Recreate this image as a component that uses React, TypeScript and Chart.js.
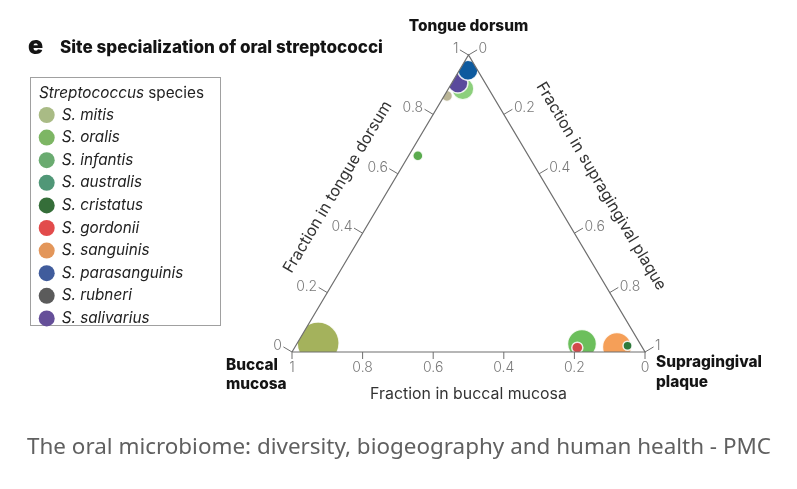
import React, { useEffect, useRef } from "react";
import { Chart, registerables } from "chart.js";

Chart.register(...registerables);

// ---------- data ----------
const species = [
  "S. mitis",
  "S. oralis",
  "S. infantis",
  "S. australis",
  "S. cristatus",
  "S. gordonii",
  "S. sanguinis",
  "S. parasanguinis",
  "S. rubneri",
  "S. salivarius",
];
const buccalFraction = [0.911, 0.165, 0.313, 0.073, 0.039, 0.185, 0.071, 0.027, 0.13, 0.077];
const tongueFraction = [0.03, 0.027, 0.661, 0.886, 0.021, 0.0145, 0.017, 0.949, 0.862, 0.906];
const plaqueFraction = [0.059, 0.808, 0.026, 0.041, 0.94, 0.801, 0.912, 0.024, 0.008, 0.017];
const relativeAbundance = [100, 47.7, 5.7, 27.4, 4.6, 6.9, 47.7, 22.7, 6.9, 22.7];
const tickValues = [0, 0.2, 0.4, 0.6, 0.8, 1];
const tickLabels = ["0", "0.2", "0.4", "0.6", "0.8", "1"];

// ---------- styles ----------
const markColors = [
  "#a4b25c",
  "#6cbf5c",
  "#5aab4e",
  "#8ccf7c",
  "#2e7a3b",
  "#d24a4a",
  "#f59f58",
  "#0e5a9e",
  "#bab596",
  "#5a4a9c",
];
const legendColors = [
  "#a9bb85",
  "#7db664",
  "#6aab70",
  "#509777",
  "#356e39",
  "#e24b4b",
  "#e3965a",
  "#405c9c",
  "#5b5b5b",
  "#654f99",
];
// higher = drawn earlier (underneath)
const drawRank = [2, 6, 1, 10, 3, 5, 4, 7, 9, 8];

const FIG = "Inter, 'Liberation Sans', sans-serif";
const CAP = "'Noto Sans', 'Open Sans', sans-serif";

function fit(ctx: CanvasRenderingContext2D, text: string, style: string, weight: number, family: string, target: number) {
  ctx.font = `${style} ${weight} 100px ${family}`;
  const w = ctx.measureText(text).width;
  return (100 * target) / w;
}

function pt(chart: any, b: number, t: number, s: number) {
  const xs = chart.scales.x;
  const ys = chart.scales.y;
  return { x: xs.getPixelForValue(s + t / 2), y: ys.getPixelForValue(t) };
}

function normal(p: any, q: any) {
  const dx = q.x - p.x;
  const dy = q.y - p.y;
  const L = Math.hypot(dx, dy);
  return { x: dy / L, y: -dx / L };
}

const decorPlugin = {
  id: "ternaryDecor",
  beforeDraw(chart: any) {
    const { ctx, width, height } = chart;
    ctx.save();
    ctx.fillStyle = "#ffffff";
    ctx.fillRect(0, 0, width, height);
    ctx.restore();
  },
  beforeDatasetDraw(chart: any, args: any) {
    const ds = chart.data.datasets[args.index];
    if (ds.type !== "bubble") return;
    const { ctx } = chart;
    const a = pt(chart, 1, 0, 0);
    const b = pt(chart, 0, 1, 0);
    const c = pt(chart, 0, 0, 1);
    ctx.save();
    ctx.beginPath();
    ctx.moveTo(a.x, a.y);
    ctx.lineTo(b.x, b.y);
    ctx.lineTo(c.x, c.y);
    ctx.closePath();
    ctx.clip();
  },
  afterDatasetDraw(chart: any, args: any) {
    const ds = chart.data.datasets[args.index];
    if (ds.type !== "bubble") return;
    chart.ctx.restore();
  },
  afterDraw(chart: any) {
    const ctx: CanvasRenderingContext2D = chart.ctx;
    const BL = pt(chart, 1, 0, 0);
    const T = pt(chart, 0, 1, 0);
    const BR = pt(chart, 0, 0, 1);
    const nLeft = normal(BL, T);
    const nRight = normal(T, BR);
    const nBottom = normal(BR, BL);

    ctx.save();
    // ticks
    ctx.strokeStyle = "#6f6f6f";
    ctx.lineWidth = 1;
    ctx.fillStyle = "#7a7a7a";
    ctx.font = `300 14px ${FIG}`;
    tickValues.forEach((v, i) => {
      const lab = tickLabels[i];
      // bottom axis: buccal mucosa (1 at left, 0 at right)
      let p = pt(chart, v, 0, 1 - v);
      let e = { x: p.x + nBottom.x * 7, y: p.y + nBottom.y * 7 };
      ctx.beginPath();
      ctx.moveTo(p.x, p.y);
      ctx.lineTo(e.x, e.y);
      ctx.stroke();
      ctx.textAlign = "center";
      ctx.textBaseline = "middle";
      ctx.fillText(lab, e.x, e.y + 9);
      // left axis: tongue dorsum
      p = pt(chart, 1 - v, v, 0);
      e = { x: p.x + nLeft.x * 10, y: p.y + nLeft.y * 10 };
      ctx.beginPath();
      ctx.moveTo(p.x, p.y);
      ctx.lineTo(e.x, e.y);
      ctx.stroke();
      ctx.textAlign = "right";
      ctx.fillText(lab, e.x - 1.5, e.y - 1);
      // right axis: supragingival plaque
      p = pt(chart, 0, 1 - v, v);
      e = { x: p.x + nRight.x * 10, y: p.y + nRight.y * 10 };
      ctx.beginPath();
      ctx.moveTo(p.x, p.y);
      ctx.lineTo(e.x, e.y);
      ctx.stroke();
      ctx.textAlign = "left";
      ctx.fillText(lab, e.x + 1.5, e.y - 1);
    });

    // axis titles
    ctx.fillStyle = "#333333";
    const titleSize = fit(ctx, "Fraction in buccal mucosa", "normal", 400, FIG, 197);
    ctx.font = `400 ${titleSize}px ${FIG}`;
    ctx.textAlign = "center";
    ctx.textBaseline = "middle";
    ctx.fillText("Fraction in buccal mucosa", (BL.x + BR.x) / 2, 394);

    {
      const L = Math.hypot(T.x - BL.x, T.y - BL.y);
      const d = { x: (T.x - BL.x) / L, y: (T.y - BL.y) / L };
      const mx = (BL.x + T.x) / 2 + nLeft.x * 45 - d.x * 7.6;
      const my = (BL.y + T.y) / 2 + nLeft.y * 45 - d.y * 7.6;
      ctx.save();
      ctx.translate(mx, my);
      ctx.rotate(Math.atan2(T.y - BL.y, T.x - BL.x));
      ctx.fillText("Fraction in tongue dorsum", 0, 0);
      ctx.restore();
    }
    {
      const L = Math.hypot(BR.x - T.x, BR.y - T.y);
      const d = { x: (BR.x - T.x) / L, y: (BR.y - T.y) / L };
      const mx = (BR.x + T.x) / 2 + nRight.x * 47 + d.x * 7.8;
      const my = (BR.y + T.y) / 2 + nRight.y * 47 + d.y * 7.8;
      ctx.save();
      ctx.translate(mx, my);
      ctx.rotate(Math.atan2(BR.y - T.y, BR.x - T.x));
      ctx.fillText("Fraction in supragingival plaque", 0, 0);
      ctx.restore();
    }

    // vertex labels
    ctx.fillStyle = "#141414";
    const vSize = fit(ctx, "Supragingival", "normal", 800, FIG, 106);
    ctx.font = `800 ${vSize}px ${FIG}`;
    ctx.textAlign = "center";
    ctx.fillText("Tongue dorsum", T.x, 26);
    ctx.textAlign = "left";
    ctx.fillText("Buccal", 226, 365);
    ctx.fillText("mucosa", 226, 384);
    ctx.fillText("Supragingival", 656, 362);
    ctx.fillText("plaque", 656, 382);

    // panel title
    const tSize = fit(ctx, "Site specialization of oral streptococci", "normal", 800, FIG, 323);
    ctx.font = `800 ${tSize}px ${FIG}`;
    ctx.fillText("Site specialization of oral streptococci", 60, 48);
    ctx.font = `900 25px ${FIG}`;
    ctx.fillText("e", 28, 46);

    // legend
    ctx.strokeStyle = "#a0a0a0";
    ctx.lineWidth = 1;
    ctx.strokeRect(30.5, 77.5, 190, 248);
    const iSize = fit(ctx, "S. parasanguinis", "italic", 400, FIG, 121.6);
    ctx.fillStyle = "#222222";
    ctx.textBaseline = "middle";
    ctx.font = `italic 400 ${iSize}px ${FIG}`;
    ctx.fillText("Streptococcus", 39, 93);
    const w1 = ctx.measureText("Streptococcus").width;
    ctx.font = `400 ${iSize}px ${FIG}`;
    ctx.fillText(" species", 39 + w1, 93);
    species.forEach((name, i) => {
      const y = 115 + i * 22.6;
      ctx.beginPath();
      ctx.arc(46.7, y, 8, 0, Math.PI * 2);
      ctx.fillStyle = legendColors[i];
      ctx.fill();
      ctx.fillStyle = "#222222";
      ctx.font = `italic 400 ${iSize}px ${FIG}`;
      ctx.fillText(name, 61.7, y);
    });

    // caption (condensed by horizontal scaling to match width)
    const caption = "The oral microbiome: diversity, biogeography and human health - PMC";
    ctx.font = `400 22px ${CAP}`;
    const cw = ctx.measureText(caption).width;
    const sx = 744 / cw;
    ctx.fillStyle = "#606060";
    ctx.textAlign = "center";
    ctx.save();
    ctx.translate(399, 448);
    ctx.scale(sx, 1);
    ctx.fillText(caption, 0, 0);
    ctx.restore();
    ctx.restore();
  },
};

export default function App() {
  const ref = useRef<HTMLCanvasElement>(null);
  useEffect(() => {
    if (!ref.current) return;
    const bubbleSets = species.map((name, i) => ({
      type: "bubble" as const,
      label: name,
      data: [
        {
          x: plaqueFraction[i] + tongueFraction[i] / 2,
          y: tongueFraction[i],
          r: 2.1 * Math.sqrt(relativeAbundance[i]),
          b: buccalFraction[i],
        },
      ],
      backgroundColor: markColors[i],
      borderColor: "rgba(255,255,255,0.85)",
      borderWidth: 1.5,
      order: drawRank[i],
      clip: false as any,
    }));
    const frame = {
      type: "scatter" as const,
      label: "frame",
      data: [
        { x: 0, y: 0 },
        { x: 1, y: 0 },
        { x: 0.5, y: 1 },
        { x: 0, y: 0 },
      ],
      showLine: true,
      borderColor: "#6f6f6f",
      borderWidth: 1.2,
      borderJoinStyle: "miter" as const,
      pointRadius: 0,
      fill: false,
      order: 0,
      clip: false as any,
    };
    const chart = new Chart(ref.current, {
      type: "bubble",
      data: { datasets: [...bubbleSets, frame] as any },
      options: {
        responsive: false,
        animation: false,
        devicePixelRatio: 1,
        layout: { padding: { left: 292, right: 152, top: 55, bottom: 137 } },
        scales: {
          x: { type: "linear", min: 0, max: 1, display: false },
          y: { type: "linear", min: 0, max: 1, display: false },
        },
        plugins: {
          legend: { display: false },
          title: { display: false },
          tooltip: { enabled: false },
        },
        events: [],
      },
      plugins: [decorPlugin],
    });
    return () => chart.destroy();
  }, []);
  return (
    <div style={{ position: "absolute", left: 0, top: 0, width: 797, height: 489, background: "#fff" }}>
      <canvas ref={ref} width={797} height={489} style={{ display: "block", width: 797, height: 489 }} />
    </div>
  );
}
